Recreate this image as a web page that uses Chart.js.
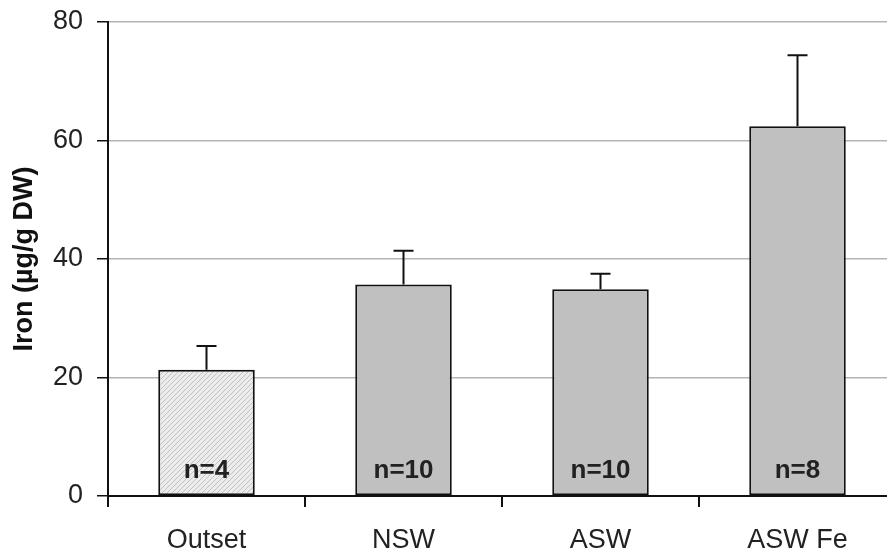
<!DOCTYPE html>
<html>
<head>
<meta charset="utf-8">
<script src="https://cdn.jsdelivr.net/npm/chart.js@4.4.1/dist/chart.umd.min.js"></script>
<style>
  html, body { margin: 0; padding: 0; background: #fff; overflow: hidden; }
  #ironChart { display: block; }
</style>
</head>
<body>
<canvas id="ironChart" width="900" height="551"></canvas>
<script>
var categories = ['Outset', 'NSW', 'ASW', 'ASW Fe'];
var ironMean = [21.3, 35.7, 34.9, 62.4];
var ironSd = [4.0, 5.7, 2.6, 12.0];
var nLabels = ['n=4', 'n=10', 'n=10', 'n=8'];
var yTicks = [0, 20, 40, 60, 80];

var FONT = "'Liberation Sans', Arial, sans-serif";

// light hatched fill for the outset bar
function hatch() {
    var c = document.createElement('canvas');
    c.width = 5; c.height = 5;
    var g = c.getContext('2d');
    g.fillStyle = '#ececec';
    g.fillRect(0, 0, 5, 5);
    g.strokeStyle = '#c2c2c2';
    g.lineWidth = 1;
    g.beginPath();
    g.moveTo(-1, 6); g.lineTo(6, -1);
    g.moveTo(-1, 1); g.lineTo(1, -1);
    g.moveTo(4, 6); g.lineTo(6, 4);
    g.stroke();
    return g.createPattern(c, 'repeat');
}

var barColors = categories.map(function(c, i) {
    return i === 0 ? hatch() : '#c0c0c0';
});

var errorBars = {
    id: 'errorBars',
    afterDatasetsDraw: function(chart) {
        var ctx = chart.ctx;
        var y = chart.scales.y;
        var meta = chart.getDatasetMeta(0);
        ctx.save();
        ctx.strokeStyle = '#111';
        ctx.lineWidth = 2;
        meta.data.forEach(function(bar, i) {
            var top = y.getPixelForValue(ironMean[i] + ironSd[i]);
            var base = y.getPixelForValue(ironMean[i]);
            ctx.beginPath();
            ctx.moveTo(bar.x, base);
            ctx.lineTo(bar.x, top);
            ctx.moveTo(bar.x - 10, top);
            ctx.lineTo(bar.x + 10, top);
            ctx.stroke();
        });
        // n labels inside bars
        ctx.fillStyle = '#222';
        ctx.font = 'bold 26px ' + FONT;
        ctx.textAlign = 'center';
        ctx.textBaseline = 'middle';
        meta.data.forEach(function(bar, i) {
            ctx.fillText(nLabels[i], bar.x, y.getPixelForValue(0) - 25);
        });
        ctx.restore();
    }
};

var chart = new Chart(document.getElementById('ironChart'), {
    type: 'bar',
    data: {
        labels: categories,
        datasets: [{
            data: ironMean,
            backgroundColor: barColors,
            borderColor: '#111',
            borderWidth: 2,
            borderSkipped: false,
            barPercentage: 0.49,
            categoryPercentage: 1
        }]
    },
    options: {
        responsive: false,
        animation: false,
        devicePixelRatio: 1,
        layout: { padding: { top: 22, right: 4, left: 0, bottom: 0 } },
        plugins: {
            legend: { display: false },
            tooltip: { enabled: false }
        },
        scales: {
            x: {
                offset: true,
                grid: {
                    offset: true,
                    drawOnChartArea: false,
                    color: '#111',
                    lineWidth: 2,
                    tickLength: 11
                },
                border: { color: '#111', width: 2 },
                ticks: {
                    color: '#222',
                    font: { family: FONT, size: 27 },
                    padding: 17
                },
                afterFit: function(s) {
                    s.height = 55;
                    s.paddingLeft = 0;
                    s.paddingRight = 0;
                }
            },
            y: {
                min: 0,
                max: 80,
                afterBuildTicks: function(s) {
                    s.ticks = yTicks.map(function(v) { return { value: v }; });
                },
                grid: {
                    color: '#b4b4b4',
                    lineWidth: 1.5,
                    tickColor: '#111',
                    tickLength: 11
                },
                border: { color: '#111', width: 2 },
                ticks: {
                    color: '#222',
                    font: { family: FONT, size: 27 },
                    padding: 14
                },
                title: {
                    display: true,
                    text: 'Iron (µg/g DW)',
                    color: '#111',
                    font: { family: FONT, size: 27, weight: 'bold' },
                    padding: { top: 8, bottom: 0 }
                },
                afterFit: function(s) {
                    s.width = 108;
                    s.paddingTop = 0;
                    s.paddingBottom = 0;
                }
            }
        }
    },
    plugins: [errorBars]
});
</script>
</body>
</html>
